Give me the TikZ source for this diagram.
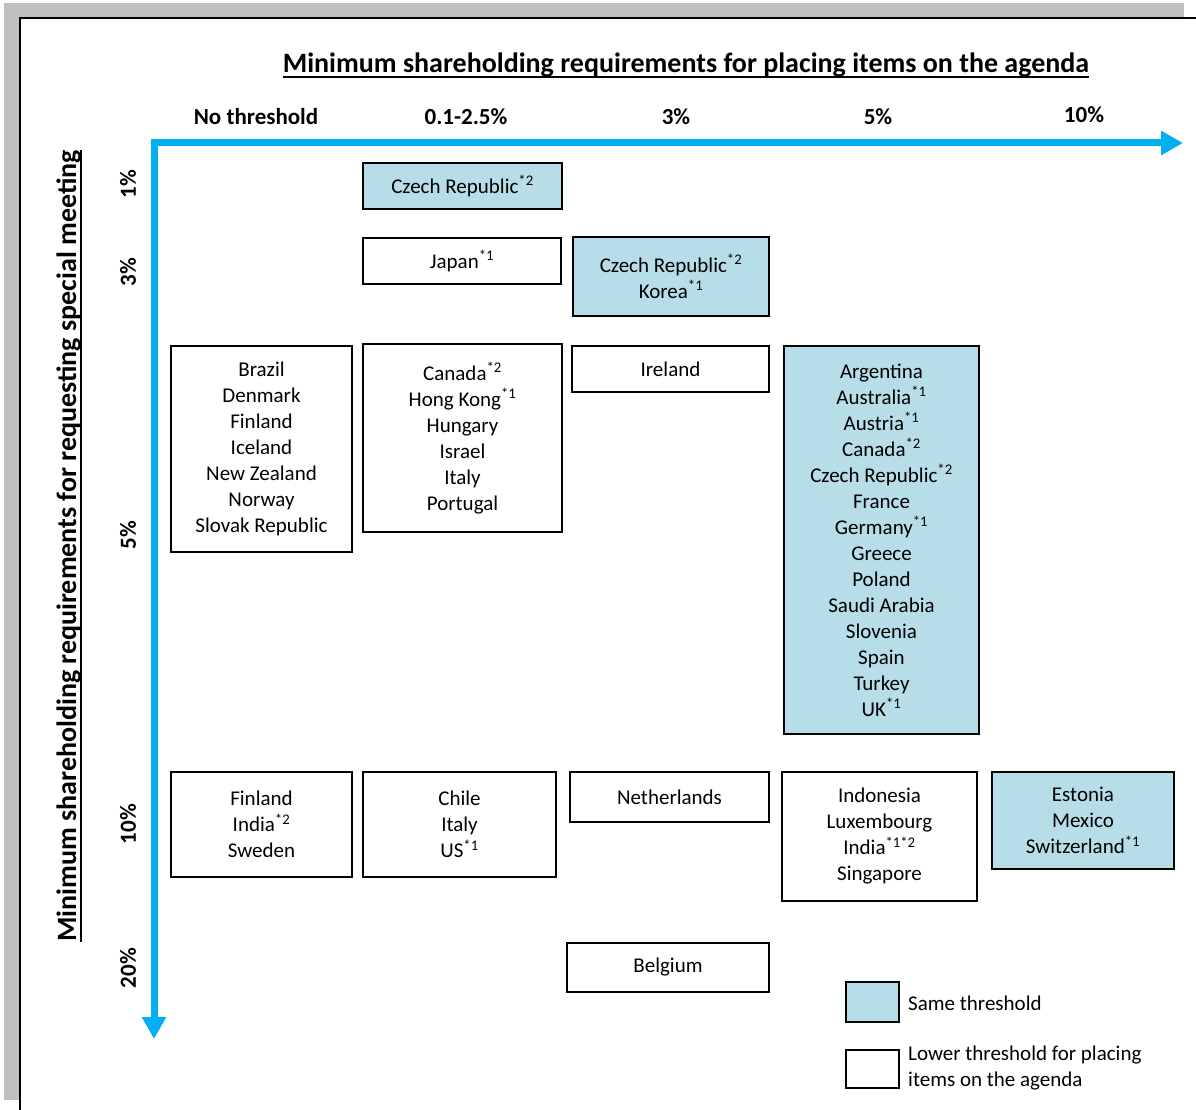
\documentclass[tikz,border=0pt]{standalone}
\usepackage{fontspec}
\setmainfont{Carlito}
\usetikzlibrary{arrows.meta}
\definecolor{axisblue}{HTML}{00B0F0}
\definecolor{cellblue}{HTML}{B7DDE8}
\definecolor{framegray}{HTML}{BFBFBF}
\newcommand{\fnote}[1]{\textsuperscript{*#1}}
% heavier underline for the axis titles
\newcommand{\thickul}[1]{\setbox0\hbox{#1}\rlap{\raisebox{-5.5pt}{\rule{\wd0}{1.8pt}}}\box0}
\tikzset{
  cell/.style={draw=black, line width=1.6pt, align=center, inner sep=0pt,
    font=\fontsize{21}{26}\selectfont},
  samecell/.style={cell, fill=cellblue},
  lowercell/.style={cell, fill=white},
  axislabel/.style={font=\fontsize{23}{28}\selectfont\bfseries},
  axistitle/.style={font=\fontsize{28}{32}\selectfont\bfseries},
  legendtext/.style={font=\fontsize{21}{26}\selectfont, align=left, anchor=west, inner sep=0pt},
}
\begin{document}
\begin{tikzpicture}[x=1pt, y=-1pt]
\useasboundingbox (0,0) rectangle (1196,1110);
% page frame
\fill[framegray] (4,3) rectangle (1184,17);
\fill[framegray] (4,17) rectangle (19,1100);
\draw[line width=2pt] (1196,18) -- (20,18) -- (20,1110);

% titles
\node[axistitle] (htitle) at (686,65) {\thickul{Minimum shareholding requirements for placing items on the agenda}};
\node[axistitle, rotate=90] (vtitle) at (69,546) {\thickul{Minimum shareholding requirements for requesting special meeting}};

% axes
\coordinate (origin) at (154,143);
\coordinate (xend) at (1183,143);
\coordinate (yend) at (154,1039);
\draw[axisblue, line width=7pt, line join=miter,
  {Triangle[length=22pt,width=23pt]}-{Triangle[length=22pt,width=23pt]}]
  (yend) -- (origin) -- (xend);

% column headings
\node[axislabel] (cnone) at (256,117) {No threshold};
\node[axislabel] (c01) at (466,117) {0.1-2.5\%};
\node[axislabel] (c3) at (676,117) {3\%};
\node[axislabel] (c5) at (878,117) {5\%};
\node[axislabel] (c10) at (1084,115) {10\%};

% row headings
\node[axislabel, rotate=90] (r1) at (128,184) {1\%};
\node[axislabel, rotate=90] (r3) at (128,272) {3\%};
\node[axislabel, rotate=90] (r5) at (128,535) {5\%};
\node[axislabel, rotate=90] (r10) at (128,824) {10\%};
\node[axislabel, rotate=90] (r20) at (128,968) {20\%};

% 1% row
\node[samecell, minimum width=199pt, minimum height=46pt] (czA) at (462.5,186) {Czech Republic\fnote{2}};
% 3% row
\node[lowercell, minimum width=198pt, minimum height=46pt] (japan) at (462,261) {Japan\fnote{1}};
\node[samecell, minimum width=196pt, minimum height=79pt] (czB) at (671,276.5) {Czech Republic\fnote{2}\\Korea\fnote{1}};
% 5% row
\node[lowercell, minimum width=181pt, minimum height=206pt] (brazil) at (261.5,449)
  {Brazil\\Denmark\\Finland\\Iceland\\New Zealand\\Norway\\Slovak Republic};
\node[lowercell, minimum width=199pt, minimum height=188pt] (canada) at (462.5,438)
  {Canada\fnote{2}\\Hong Kong\fnote{1}\\Hungary\\Israel\\Italy\\Portugal};
\node[lowercell, minimum width=197pt, minimum height=46pt] (ireland) at (670.5,369) {Ireland};
\node[samecell, minimum width=195pt, minimum height=388pt] (argentina) at (881.5,540)
  {Argentina\\Australia\fnote{1}\\Austria\fnote{1}\\Canada\fnote{2}\\Czech Republic\fnote{2}\\France\\Germany\fnote{1}\\Greece\\Poland\\Saudi Arabia\\Slovenia\\Spain\\Turkey\\UK\fnote{1}};
% 10% row
\node[lowercell, minimum width=181pt, minimum height=105pt] (finland) at (261.5,824.5) {Finland\\India\fnote{2}\\Sweden};
\node[lowercell, minimum width=193pt, minimum height=105pt] (chile) at (459.5,824.5) {Chile\\Italy\\US\fnote{1}};
\node[lowercell, minimum width=199pt, minimum height=50pt] (netherlands) at (669.5,797) {Netherlands};
\node[lowercell, minimum width=195pt, minimum height=129pt] (indonesia) at (879.5,836.5)
  {Indonesia\\Luxembourg\\India\textsuperscript{*1*2}\\Singapore};
\node[samecell, minimum width=182pt, minimum height=97pt] (estonia) at (1083,820.5)
  {Estonia\\Mexico\\Switzerland\fnote{1}};
% 20% row
\node[lowercell, minimum width=202pt, minimum height=49pt] (belgium) at (668,967.5) {Belgium};

% legend
\node[samecell, minimum width=53pt, minimum height=40pt] (keysame) at (872.5,1002) {};
\node[lowercell, minimum width=53pt, minimum height=38pt] (keylower) at (872.5,1069) {};
\node[legendtext] (keysametext) at (908,1003) {Same threshold};
\node[legendtext] (keylowertext) at (908,1068) {Lower threshold for placing\\items on the agenda};
\end{tikzpicture}
\end{document}
